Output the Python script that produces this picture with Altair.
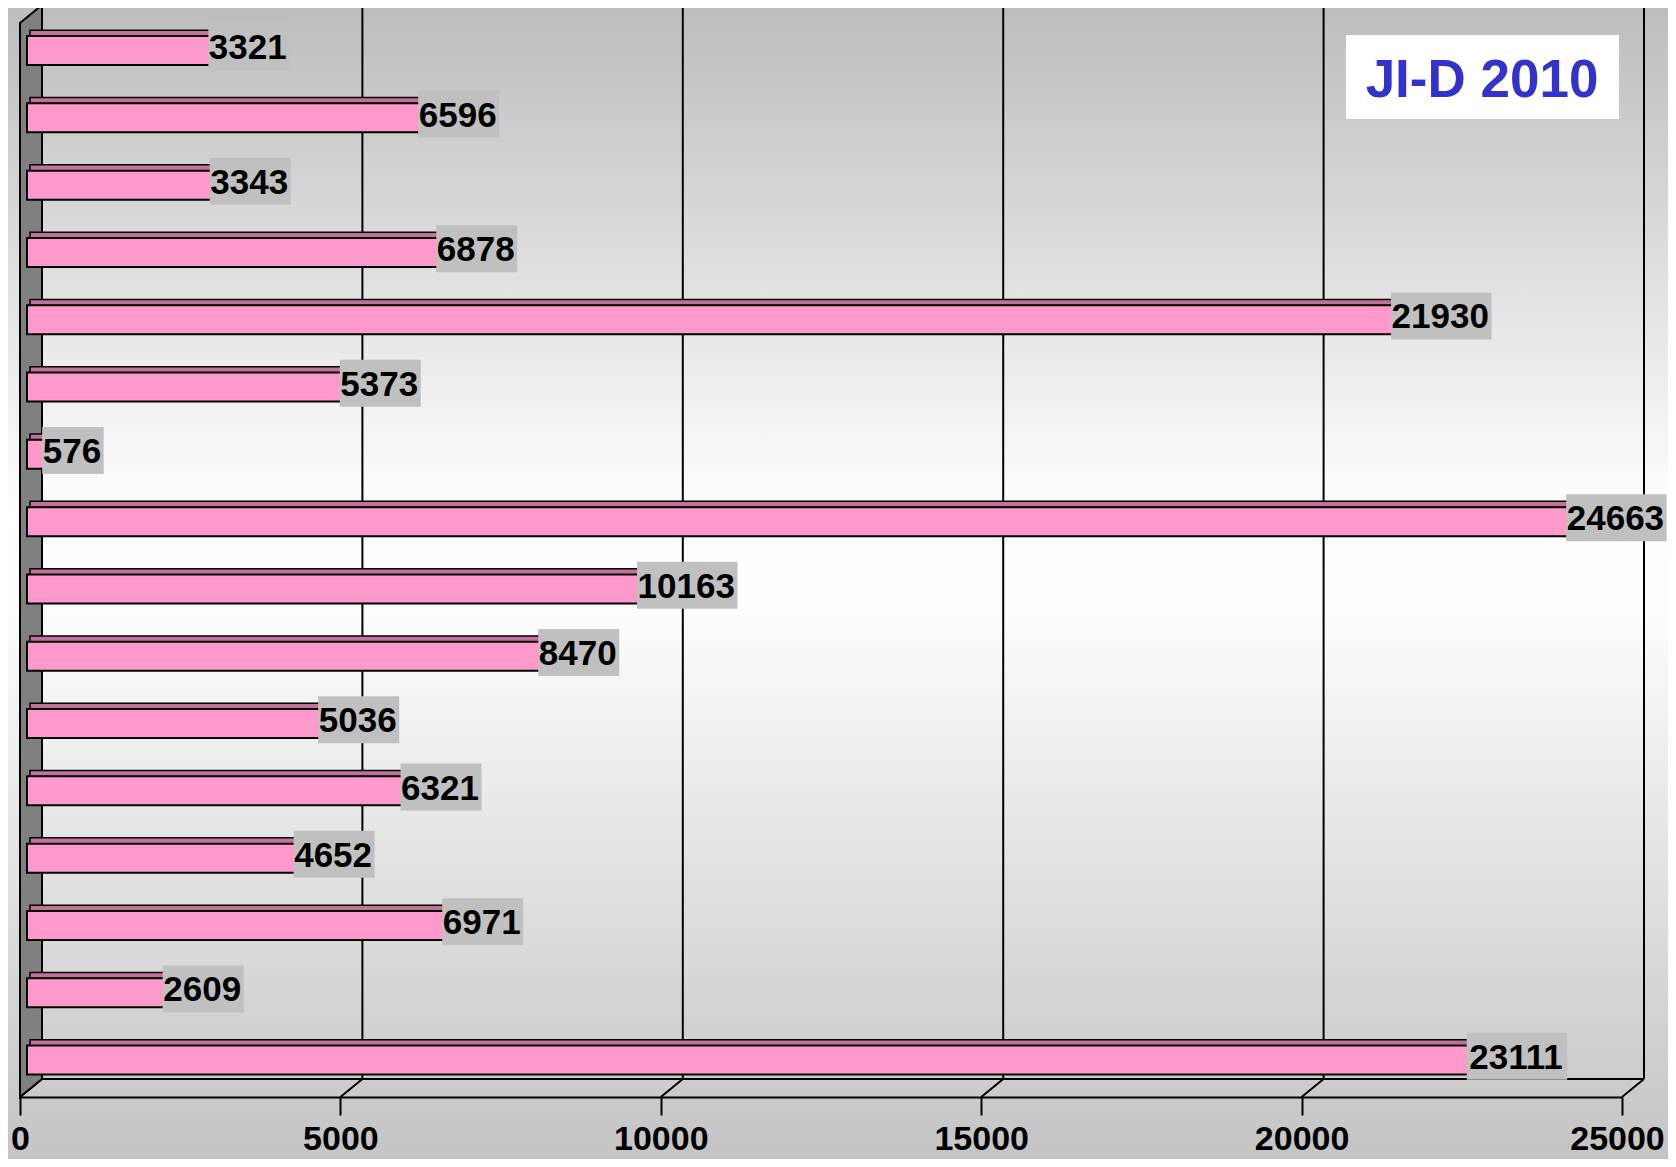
import altair as alt
import pandas as pd

# ---- data ----
values = [3321, 6596, 3343, 6878, 21930, 5373, 576, 24663,
          10163, 8470, 5036, 6321, 4652, 6971, 2609, 23111]
categories = [f"R{i+1:02d}" for i in range(len(values))]
ticks = [0, 5000, 10000, 15000, 20000, 25000]
title_text = "JI-D 2010"

# ---- layout (pixels) ----
W, H = 1602, 1074
PL, PT, PR, PB = 12, 15, 46, 62
XMAX = 25000
DX, DY = 22, -18          # depth offset of the back plane
FONT = "Liberation Sans"

df = pd.DataFrame({"cat": categories, "value": values})
df["label"] = df["value"].astype(str)

xs = alt.Scale(domain=[0, XMAX], nice=False, zero=True)
ys = alt.Scale(domain=categories, paddingInner=0.57, paddingOuter=0.264)
Y = alt.Y("cat:N", scale=ys, axis=None, sort=categories)

xaxis = alt.Axis(values=ticks, format="d", title=None, grid=False, zindex=5,
                 labelFont=FONT, labelFontSize=34, labelFontWeight="bold",
                 labelColor="black", labelFlush=False, labelOverlap=False,
                 labelPadding=7,
                 labelOffset={"condition": {"test": f"datum.value === {XMAX}", "value": -5},
                              "value": 0},
                 domainColor="black", domainWidth=2,
                 tickColor="black", tickWidth=2, tickSize=18)

grad = alt.Gradient(
    gradient="linear", x1=0, x2=0, y1=0, y2=1,
    stops=[alt.GradientStop(color="#bdbdbd", offset=0),
           alt.GradientStop(color="#ffffff", offset=0.44),
           alt.GradientStop(color="#fdfdfd", offset=0.52),
           alt.GradientStop(color="#c4c4c4", offset=1)])

one = pd.DataFrame({"a": [0]})
bg = alt.Chart(one).mark_rect(fill=grad).encode(
    x=alt.value(-PL), x2=alt.value(W + PR), y=alt.value(-PT), y2=alt.value(H + PB))

tick_df = pd.DataFrame({"t": ticks})
grid = alt.Chart(tick_df).mark_rule(color="black", strokeWidth=2, xOffset=DX).encode(
    x=alt.X("t:Q", scale=xs, axis=xaxis), y=alt.value(DY), y2=alt.value(H + DY))
slants = alt.Chart(tick_df).mark_rule(color="black", strokeWidth=2, x2Offset=DX).encode(
    x=alt.X("t:Q", scale=xs, axis=xaxis), x2="t:Q", y=alt.value(H), y2=alt.value(H + DY))
back_top = alt.Chart(one).mark_rule(color="black", strokeWidth=2).encode(
    x=alt.value(DX), x2=alt.value(W + DX), y=alt.value(DY))
back_floor = alt.Chart(one).mark_rule(color="black", strokeWidth=2).encode(
    x=alt.value(DX), x2=alt.value(W + DX), y=alt.value(H + DY))

wall_df = pd.DataFrame({"px": [0, DX], "top": [0, DY], "bot": [H, H + DY]})
wall = alt.Chart(wall_df).mark_area(fill="#808080", stroke="black", strokeWidth=2).encode(
    x=alt.X("px:Q", scale=None, axis=None),
    y=alt.Y("top:Q", scale=None, axis=None),
    y2="bot:Q")

bar_top = alt.Chart(df).mark_bar(fill="#c2719a", stroke="black", strokeWidth=1.5,
                                 height=6, xOffset=10, x2Offset=10, yOffset=-22).encode(
    x=alt.X("value:Q", scale=xs, axis=xaxis), y=Y)
bar_front = alt.Chart(df).mark_bar(fill="#ff99cc", stroke="black", strokeWidth=2,
                                   height=29, xOffset=7, x2Offset=7, yOffset=-4.7).encode(
    x=alt.X("value:Q", scale=xs, axis=xaxis), y=Y)

boxes = alt.Chart(df).transform_calculate(
    hw=f"(length(datum.label) * 19.5 + 3) / 2 / {W} * {XMAX}"
).transform_calculate(
    lo="datum.value - datum.hw", hi="datum.value + datum.hw"
).mark_bar(fill="#c0c0c0", height=47, xOffset=16, x2Offset=16, yOffset=-8.5).encode(
    x=alt.X("lo:Q", scale=xs, axis=xaxis), x2="hi:Q", y=Y)

texts = alt.Chart(df).mark_text(font=FONT, fontSize=35, fontWeight="bold", color="black",
                                align="center", baseline="alphabetic",
                                xOffset=15, yOffset=4).encode(
    x=alt.X("value:Q", scale=xs, axis=xaxis), y=Y, text="label:N")

tbox = alt.Chart(one).mark_rect(fill="white").encode(
    x=alt.value(1326), x2=alt.value(1599), y=alt.value(12), y2=alt.value(96))
ttext = alt.Chart(pd.DataFrame({"t": [title_text]})).mark_text(
    font=FONT, fontSize=53, fontWeight="bold", color="#3333cc",
    align="center", baseline="alphabetic").encode(
    x=alt.value(1462), y=alt.value(74), text="t:N")

chart = alt.layer(bg, grid, back_top, back_floor, slants, wall,
                  bar_top, bar_front, boxes, texts, tbox, ttext).properties(
    width=W, height=H,
    padding={"left": PL, "top": PT, "right": PR, "bottom": PB},
    autosize=alt.AutoSizeParams(type="none"),
    background="#c8c8c8",
).configure_view(stroke=None)

chart.save("out.html", embed_options={"renderer": "svg", "actions": False})
